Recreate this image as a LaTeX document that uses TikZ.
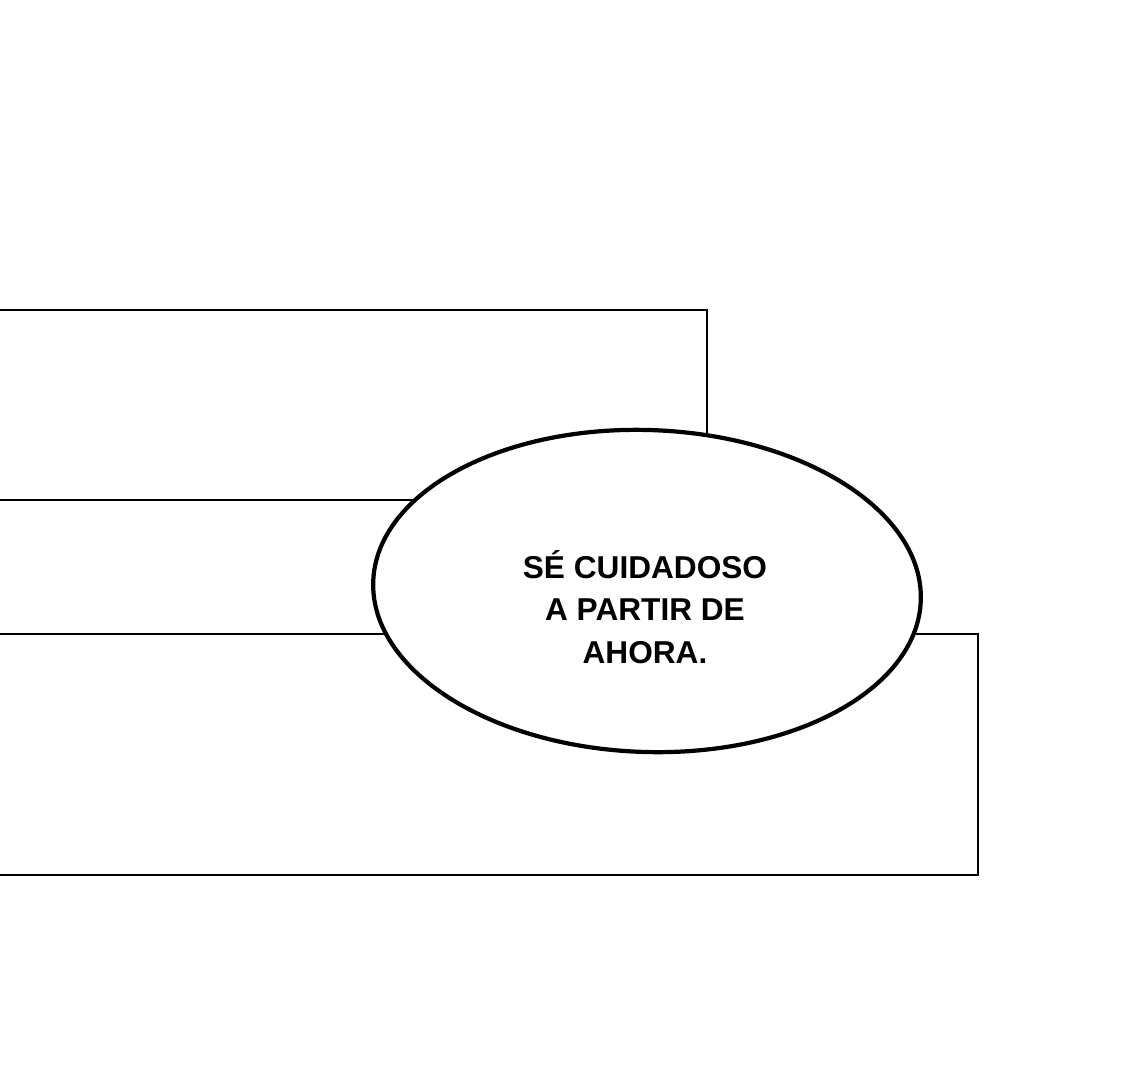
\documentclass[tikz,border=0pt]{standalone}
\usepackage{fontspec}
\usetikzlibrary{shapes.geometric}
\setmainfont{Liberation Sans}
\begin{document}
\begin{tikzpicture}[x=0.02cm,y=-0.02cm,
  panel/.style={draw=black,line width=1.2pt},
  bubble/.style={draw=black,fill=white,line width=2.4pt,ellipse,inner sep=0pt,minimum width=10.96cm,minimum height=6.44cm}]
\useasboundingbox (0,0) rectangle (1125,1078);
\draw[panel] (0,310) -- (707,310) -- (707,500) -- (0,500);
\draw[panel] (0,634) -- (978,634) -- (978,875) -- (0,875);
\node[bubble,rotate=-2] (b) at (647,591) {};
\node[align=center,font=\fontsize{18}{24}\selectfont\bfseries] (t) at (645,607) {SÉ CUIDADOSO\\A PARTIR DE\\AHORA.};
\end{tikzpicture}
\end{document}
